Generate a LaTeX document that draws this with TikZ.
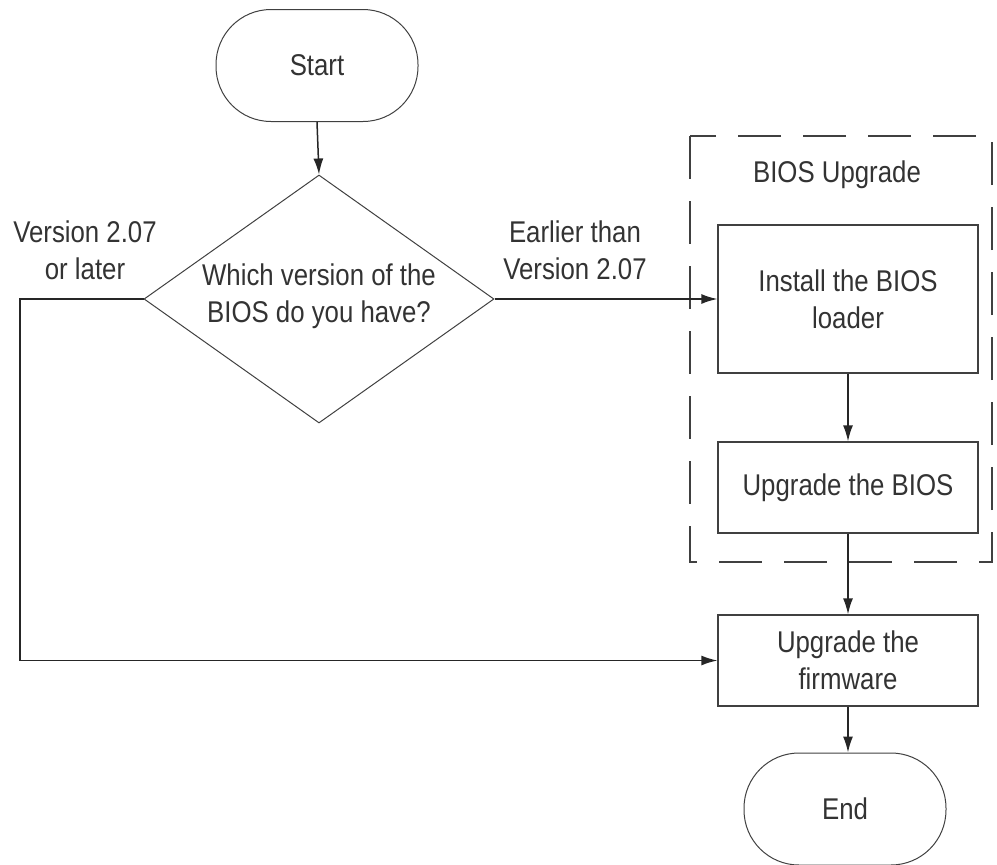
\documentclass[tikz,border=0pt]{standalone}
\usepackage{fontspec}
\setmainfont{Liberation Sans}[FakeStretch=0.86]
\usetikzlibrary{shapes.geometric,arrows.meta}
\begin{document}
\begin{tikzpicture}[x=1pt,y=-1pt,
  every node/.style={font=\fontsize{30}{37}\selectfont, align=center, inner sep=0pt, text=black!80},
  term/.style={draw=black!75, line width=1pt, rectangle, rounded corners=55pt, minimum width=202pt, minimum height=112pt},
  proc/.style={draw=black!75, line width=1.3pt, rectangle, minimum width=260pt},
  decision/.style={draw=black!75, line width=1pt, diamond, minimum width=350pt, minimum height=248pt},
  group/.style={draw=black!75, line width=1.5pt, dash pattern=on 43pt off 22pt},
  arr/.style={draw=black!85, -{Latex[length=16pt,width=10pt]}, line width=1.5pt},
  ]
\useasboundingbox (0,0) rectangle (997,865);

\node[term] (start) at (317,65.5) {Start};
\node[decision] (dec) at (319,299) {};
\node (dectext) at (319,296) {Which version of the\\BIOS do you have?};

\draw[group] (690,136) rectangle (992,562);
\node (grouplabel) at (837,175) {BIOS Upgrade};

\node[proc, minimum height=148pt] (install) at (848,299) {Install the BIOS\\loader};
\node[proc, minimum height=91pt] (bios) at (848,487.5) {Upgrade the BIOS};
\node[proc, minimum height=91pt] (firm) at (848,660.5) {Upgrade the\\firmware};
\node[term] (end) at (845,809) {End};

\node (lbl1) at (85,250) {Version 2.07\\or later};
\node (lbl2) at (575,250) {Earlier than\\Version 2.07};

\coordinate (corner) at (20,299);

\draw[arr] (start.south) -- (dec.north);
\draw[arr] (dec.east) -- (install.west);
\draw[arr] (install.south) -- (bios.north);
\draw[arr] (bios.south) -- (firm.north);
\draw[arr] (firm.south) -- (firm.south |- end.north);
\draw[arr] (dec.west) -- (corner) |- (firm.west);
\end{tikzpicture}
\end{document}
